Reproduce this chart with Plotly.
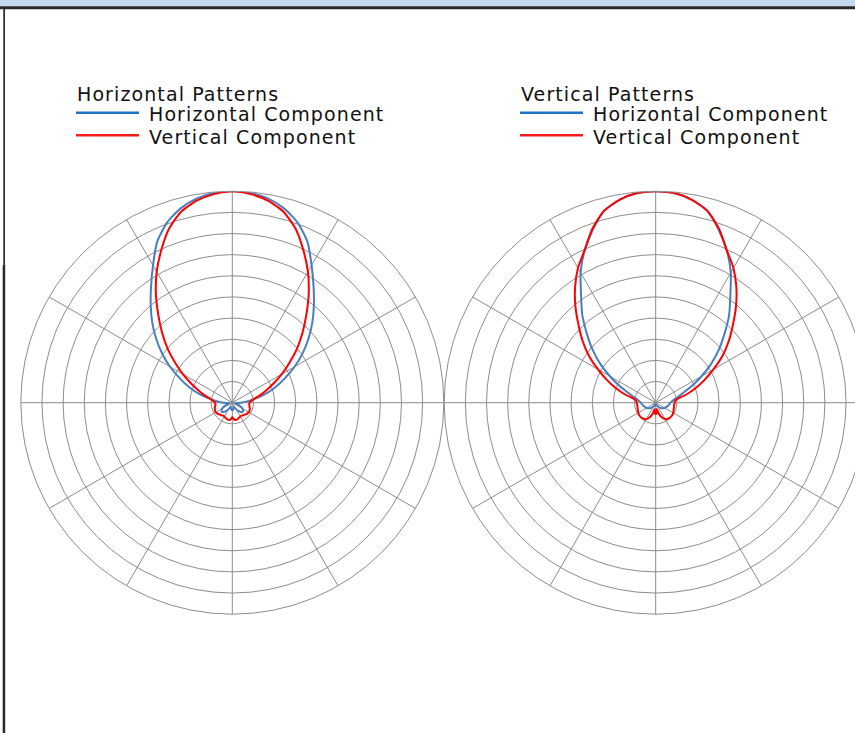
import plotly.graph_objects as go

# ---------------- data ----------------
angles = [a for a in range(0, 365, 5)]  # 0..360 degrees, 5 degree steps

# Horizontal Patterns
hp_horizontal = [1.00, 0.995, 0.98, 0.95, 0.905, 0.84, 0.75, 0.67, 0.60, 0.535, 0.47, 0.405,
                 0.34, 0.275, 0.22, 0.165, 0.11, 0.07, 0.04, 0.02, 0.015, 0.02, 0.03, 0.045,
                 0.055, 0.062, 0.065, 0.063, 0.055, 0.045, 0.035, 0.025, 0.02, 0.025, 0.03, 0.035,
                 0.035, 0.035, 0.03, 0.025, 0.02, 0.025, 0.035, 0.045, 0.055, 0.063, 0.065, 0.062,
                 0.055, 0.045, 0.03, 0.02, 0.015, 0.02, 0.04, 0.07, 0.11, 0.165, 0.22, 0.275,
                 0.34, 0.405, 0.47, 0.535, 0.60, 0.67, 0.75, 0.84, 0.905, 0.95, 0.98, 0.995, 1.00]
hp_vertical = [1.00, 0.99, 0.97, 0.935, 0.875, 0.795, 0.715, 0.63, 0.545, 0.47, 0.40, 0.33,
               0.27, 0.215, 0.17, 0.135, 0.105, 0.09, 0.082, 0.08, 0.082, 0.085, 0.088, 0.09,
               0.09, 0.088, 0.085, 0.08, 0.078, 0.075, 0.075, 0.078, 0.08, 0.083, 0.083, 0.078,
               0.068, 0.078, 0.083, 0.083, 0.08, 0.078, 0.075, 0.075, 0.078, 0.08, 0.085, 0.088,
               0.09, 0.09, 0.088, 0.085, 0.082, 0.08, 0.082, 0.09, 0.105, 0.135, 0.17, 0.215,
               0.27, 0.33, 0.40, 0.47, 0.545, 0.63, 0.715, 0.795, 0.875, 0.935, 0.97, 0.99, 1.00]

# Vertical Patterns
vp_horizontal = [1.00, 0.995, 0.975, 0.94, 0.87, 0.795, 0.71, 0.615, 0.54, 0.46, 0.39, 0.32,
                 0.25, 0.19, 0.14, 0.11, 0.09, 0.078, 0.07, 0.066, 0.063, 0.059, 0.055, 0.052,
                 0.05, 0.045, 0.04, 0.035, 0.03, 0.025, 0.02, 0.016, 0.012, 0.01, 0.01, 0.011,
                 0.012, 0.011, 0.01, 0.01, 0.012, 0.016, 0.02, 0.025, 0.03, 0.035, 0.04, 0.045,
                 0.05, 0.052, 0.055, 0.059, 0.063, 0.066, 0.07, 0.078, 0.09, 0.11, 0.14, 0.19,
                 0.25, 0.32, 0.39, 0.46, 0.54, 0.615, 0.71, 0.795, 0.87, 0.94, 0.975, 0.995, 1.00]
vp_vertical = [1.00, 0.995, 0.975, 0.94, 0.875, 0.795, 0.735, 0.665, 0.59, 0.515, 0.45, 0.385,
               0.315, 0.255, 0.20, 0.15, 0.105, 0.092, 0.09, 0.088, 0.088, 0.089, 0.09, 0.093,
               0.095, 0.097, 0.098, 0.098, 0.097, 0.094, 0.09, 0.08, 0.068, 0.05, 0.03, 0.05,
               0.055, 0.05, 0.03, 0.05, 0.068, 0.08, 0.09, 0.094, 0.097, 0.098, 0.098, 0.097,
               0.095, 0.093, 0.09, 0.089, 0.088, 0.088, 0.09, 0.092, 0.105, 0.15, 0.20, 0.255,
               0.315, 0.385, 0.45, 0.515, 0.59, 0.665, 0.735, 0.795, 0.875, 0.94, 0.975, 0.995, 1.00]

chart_titles = ["Horizontal Patterns", "Vertical Patterns"]
series_names = ["Horizontal Component", "Vertical Component"]

# ---------------- styling ----------------
W, H = 868, 733
BLUE = "#4A7EBB"
RED = "#FF0000"
LEG_BLUE = "#1F73C4"
LEG_RED = "#FF1A1A"
GRID = "#8c8c8c"
FONT = "DejaVu Sans"
TEXT = "#111111"


def fx(px):
    return px / W


def fy(py):
    return 1 - py / H


fig = go.Figure()

for subplot, (h_vals, v_vals) in zip(["polar", "polar2"],
                                     [(hp_horizontal, hp_vertical), (vp_horizontal, vp_vertical)]):
    fig.add_trace(go.Scatterpolar(r=h_vals, theta=angles, mode="lines", name=series_names[0],
                                  line=dict(color=BLUE, width=2, shape="spline", smoothing=0.6),
                                  subplot=subplot, showlegend=False))
    fig.add_trace(go.Scatterpolar(r=v_vals, theta=angles, mode="lines", name=series_names[1],
                                  line=dict(color=RED, width=2, shape="spline", smoothing=0.6),
                                  subplot=subplot, showlegend=False))

polar_style = dict(
    bgcolor="white",
    radialaxis=dict(range=[0, 1], tick0=0, dtick=0.1, showticklabels=False, ticks="",
                    showline=False, gridcolor=GRID, gridwidth=1),
    angularaxis=dict(rotation=90, direction="clockwise", dtick=30, showticklabels=False,
                     ticks="", showline=True, linecolor=GRID, linewidth=1,
                     gridcolor=GRID, gridwidth=1),
)

R = 211.5
cy = 402.7
ydom = [fy(cy + R), fy(cy - R)]
fig.update_layout(
    width=W, height=H,
    margin=dict(l=0, r=0, t=0, b=0),
    paper_bgcolor="white",
    showlegend=False,
    polar=dict(domain=dict(x=[fx(232.3 - R), fx(232.3 + R)], y=ydom), **polar_style),
    polar2=dict(domain=dict(x=[fx(655.7 - R), fx(655.7 + R)], y=ydom), **polar_style),
)

# window frame decorations
shapes = [
    dict(type="rect", xref="paper", yref="paper", x0=0, x1=1, y0=fy(6.5), y1=1,
         fillcolor="#C3D7EF", line=dict(width=0), layer="above"),
    dict(type="rect", xref="paper", yref="paper", x0=0, x1=1, y0=fy(9.3), y1=fy(6.3),
         fillcolor="#2a2a2a", line=dict(width=0), layer="above"),
    dict(type="rect", xref="paper", yref="paper", x0=fx(3.3), x1=fx(5), y0=fy(265), y1=fy(9),
         fillcolor="#2a2a2a", line=dict(width=0), layer="above"),
    dict(type="rect", xref="paper", yref="paper", x0=fx(2.7), x1=fx(5.2), y0=0, y1=fy(265),
         fillcolor="#2a2a2a", line=dict(width=0), layer="above"),
]

annotations = []
LS = "letter-spacing:1.1px"
FS = 19
for x_left, title in zip([75, 519], chart_titles):
    annotations.append(dict(xref="paper", yref="paper", x=fx(x_left), y=fy(94), xanchor="left",
                            yanchor="middle", showarrow=False,
                            text=f'<span style="{LS}">{title}</span>',
                            font=dict(family=FONT, size=FS, color=TEXT)))
    for yy, name, col in [(114.5, series_names[0], LEG_BLUE), (137, series_names[1], LEG_RED)]:
        shapes.append(dict(type="line", xref="paper", yref="paper",
                           x0=fx(x_left + 1), x1=fx(x_left + 64), y0=fy(yy - 1.8), y1=fy(yy - 1.8),
                           line=dict(color=col, width=2.5)))
        annotations.append(dict(xref="paper", yref="paper", x=fx(x_left + 72), y=fy(yy),
                                xanchor="left", yanchor="middle", showarrow=False,
                                text=f'<span style="{LS}">{name}</span>',
                                font=dict(family=FONT, size=FS, color=TEXT)))

fig.update_layout(shapes=shapes, annotations=annotations)

fig.write_html("out.html",
               config={"displayModeBar": False},
               post_script="document.documentElement.style.overflow='hidden';"
                           "document.body.style.margin='0';document.body.style.overflow='hidden';")
